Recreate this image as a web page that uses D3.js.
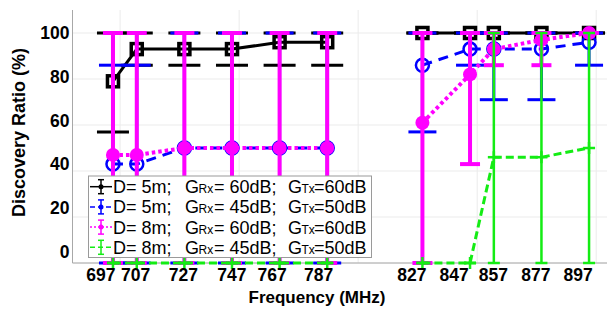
<!DOCTYPE html>
<html><head><meta charset="utf-8">
<script src="https://cdn.jsdelivr.net/npm/d3@7/dist/d3.min.js"></script>
<style>body{margin:0;background:#fff}svg{display:block}</style>
</head><body>
<svg id="chart" width="607" height="309"></svg>
<script>
// ---- data ----
const freqs = [697, 707, 727, 747, 767, 787, 827, 847, 857, 877, 897];
const yTicks = [0, 20, 40, 60, 80, 100];
const xGrid = [700, 750, 800, 850, 900];

const blackMean = [79, 93, 93, 93, 96, 96, 100, 100, 100, 100, 100];
const blackLo   = [57, 86, 86, 86, 86, 86, 100, 100, 100, 100, 100];
const blackHi   = [100, 100, 100, 100, 100, 100, 100, 100, 100, 100, 100];

const blueMean = [43, 43, 50, 50, 50, 50, 86, 93, 93, 93, 96];
const blueLo   = [0, 0, 0, 0, 0, 0, 57, 86, 71, 71, 86];
const blueHi   = [86, 86, 100, 100, 100, 100, 100, 100, 100, 100, 100];

const magMean = [47, 47, 50, 50, 50, 50, 61, 82, 93, 97, 100];
const magLo   = [0, 0, 0, 0, 0, 0, 0, 43, 86, 86, 100];
const magHi   = [100, 100, 100, 100, 100, 100, 100, 100, 100, 100, 100];

const greenMean = [0, 0, 0, 0, 0, 0, 0, 0, 46, 46, 50];
const greenLo   = [0, 0, 0, 0, 0, 0, 0, 0, 0, 0, 0];
const greenHi   = [0, 0, 0, 0, 0, 0, 0, 0, 100, 100, 100];

const legendD   = ["5m", "5m", "8m", "8m"];
const legendGRx = ["60dB", "45dB", "60dB", "45dB"];
const legendGTx = ["60dB", "50dB", "60dB", "50dB"];

// ---- layout / style ----
const svg = d3.select("#chart");
const font = "'Liberation Sans', Arial, sans-serif";
const x = d3.scaleLinear().domain([680, 910]).range([72.5, 620]);
const y = d3.scaleLinear().domain([0, 110]).range([263, 10]);
const yLab = d3.scaleLinear().domain([0, 100]).range([251.7, 33]);
const gapAt = 800;

const series = [
  {mean: blackMean, lo: blackLo, hi: blackHi, color: "#000000", lw: 3, elw: 3, cap: 32, dash: null, marker: "square"},
  {mean: blueMean, lo: blueLo, hi: blueHi, color: "#0000ff", lw: 3, elw: 3, cap: 28, dash: "10,7", marker: "ocircle"},
  {mean: magMean, lo: magLo, hi: magHi, color: "#ff00ff", lw: 4, elw: 4, cap: 20, dash: "3.5,3", marker: "fcircle"},
  {mean: greenMean, lo: greenLo, hi: greenHi, color: "#14ec14", lw: 3, elw: 2.5, cap: 12, dash: "8,4", marker: "plus"}
];

// grid
const plotL = 72.5, plotR = 607, plotT = 10, plotB = 263;
svg.append("g").selectAll("line.gx").data(xGrid).join("line")
  .attr("x1", d => x(d)).attr("x2", d => x(d)).attr("y1", plotT).attr("y2", plotB)
  .attr("stroke", "#ebebeb").attr("stroke-width", 1);
svg.append("g").selectAll("line.gy").data(yTicks).join("line")
  .attr("x1", plotL).attr("x2", plotR).attr("y1", d => y(d)).attr("y2", d => y(d))
  .attr("stroke", "#ebebeb").attr("stroke-width", 1);

// axes lines
svg.append("line").attr("x1", plotL).attr("x2", plotL).attr("y1", plotT).attr("y2", plotB)
  .attr("stroke", "#a8a8a8").attr("stroke-width", 1);
svg.append("line").attr("x1", plotL).attr("x2", plotR).attr("y1", plotB).attr("y2", plotB)
  .attr("stroke", "#a8a8a8").attr("stroke-width", 1);

// series
series.forEach(s => {
  const pts = freqs.map((f, i) => ({f, m: s.mean[i], lo: s.lo[i], hi: s.hi[i]}));
  const g = svg.append("g");
  // error bars
  pts.forEach(p => {
    if (p.hi !== p.lo) {
      g.append("line").attr("x1", x(p.f)).attr("x2", x(p.f)).attr("y1", y(p.lo)).attr("y2", y(p.hi))
        .attr("stroke", s.color).attr("stroke-width", s.elw);
    }
    [p.lo, p.hi].forEach(v => {
      g.append("line").attr("x1", x(p.f) - s.cap / 2).attr("x2", x(p.f) + s.cap / 2)
        .attr("y1", y(v)).attr("y2", y(v)).attr("stroke", s.color).attr("stroke-width", s.elw);
    });
  });
  // line segments
  const line = d3.line().x(p => x(p.f)).y(p => y(p.m));
  [pts.filter(p => p.f < gapAt), pts.filter(p => p.f > gapAt)].forEach(seg => {
    const path = g.append("path").attr("d", line(seg)).attr("fill", "none")
      .attr("stroke", s.color).attr("stroke-width", s.lw).attr("stroke-linejoin", "round");
    if (s.dash) path.attr("stroke-dasharray", s.dash);
  });
  // markers
  pts.forEach(p => {
    const cx = x(p.f), cy = y(p.m);
    if (s.marker === "square") {
      g.append("rect").attr("x", cx - 5.5).attr("y", cy - 5.5).attr("width", 11).attr("height", 11)
        .attr("fill", "none").attr("stroke", s.color).attr("stroke-width", 3.5);
    } else if (s.marker === "ocircle") {
      g.append("circle").attr("cx", cx).attr("cy", cy).attr("r", 6.5)
        .attr("fill", "none").attr("stroke", s.color).attr("stroke-width", 2.5);
    } else if (s.marker === "fcircle") {
      g.append("circle").attr("cx", cx).attr("cy", cy).attr("r", 7).attr("fill", s.color);
    } else {
      g.append("line").attr("x1", cx - 6).attr("x2", cx + 6).attr("y1", cy).attr("y2", cy)
        .attr("stroke", s.color).attr("stroke-width", 2.5);
      g.append("line").attr("x1", cx).attr("x2", cx).attr("y1", cy - 6).attr("y2", cy + 6)
        .attr("stroke", s.color).attr("stroke-width", 2.5);
    }
  });
});

// y tick labels
const yAxis = svg.append("g").attr("transform", `translate(${plotL},0)`)
  .call(d3.axisLeft(yLab).tickValues(yTicks).tickSize(0).tickPadding(3).tickFormat(d3.format("d")));
yAxis.select(".domain").remove();
yAxis.selectAll("text").attr("font-family", font).attr("font-size", 17.5).attr("font-weight", "bold").attr("fill", "#000");

// x tick labels
const labelNudge = {697: -12.5, 707: -1.7, 727: -1.5, 747: -0.7, 767: -8, 787: -9, 827: -11, 847: -16.5, 857: -1, 877: -6, 897: -11.5};
const xAxis = svg.append("g").attr("transform", `translate(0,${plotB})`)
  .call(d3.axisBottom(x).tickValues(freqs).tickSize(0).tickPadding(6).tickFormat(d3.format("d")));
xAxis.select(".domain").remove();
xAxis.selectAll("text").attr("font-family", font).attr("font-size", 17.5).attr("font-weight", "bold")
  .attr("fill", "#000").attr("dx", d => labelNudge[d] || 0);

// axis titles
svg.append("text").attr("x", 317).attr("y", 302.5).attr("text-anchor", "middle")
  .attr("font-family", font).attr("font-size", 17).attr("font-weight", "bold").text("Frequency (MHz)");
svg.append("text").attr("transform", "translate(25,132.5) rotate(-90)").attr("text-anchor", "middle")
  .attr("font-family", font).attr("font-size", 18).attr("font-weight", "bold").text("Discovery Ratio (%)");

// legend
const lg = svg.append("g");
lg.append("rect").attr("x", 88.5).attr("y", 176).attr("width", 283).attr("height", 81.5)
  .attr("fill", "#fff").attr("stroke", "#9a9a9a").attr("stroke-width", 1);
series.forEach((s, i) => {
  const cy = 186.7 + i * 20.2;
  const l = lg.append("line").attr("x1", 90).attr("x2", 112).attr("y1", cy).attr("y2", cy)
    .attr("stroke", s.color).attr("stroke-width", 1.5);
  if (s.dash) l.attr("stroke-dasharray", s.marker === "fcircle" ? "2,2" : "5,3");
  lg.append("line").attr("x1", 101).attr("x2", 101).attr("y1", cy - 7).attr("y2", cy + 7)
    .attr("stroke", s.color).attr("stroke-width", 1.5);
  [cy - 7, cy + 7].forEach(v => lg.append("line").attr("x1", 98).attr("x2", 104).attr("y1", v).attr("y2", v)
    .attr("stroke", s.color).attr("stroke-width", 1.5));
  if (s.marker !== "plus") lg.append("circle").attr("cx", 101).attr("cy", cy).attr("r", 2.5).attr("fill", s.color);
  const t = lg.append("text").attr("y", cy + 6.5).attr("font-family", font).attr("font-size", 18).attr("fill", "#000");
  t.append("tspan").attr("x", 113).text(`D= ${legendD[i]};`);
  t.append("tspan").attr("x", 185).text("G");
  t.append("tspan").attr("x", 198.5).attr("font-size", 12).text("Rx");
  t.append("tspan").attr("x", 214).text(`= ${legendGRx[i]};`);
  t.append("tspan").attr("x", 288).text("G");
  t.append("tspan").attr("x", 301.5).attr("font-size", 12).text("Tx");
  t.append("tspan").attr("x", 314).text(`=${legendGTx[i]}`);
});
</script>
</body></html>
